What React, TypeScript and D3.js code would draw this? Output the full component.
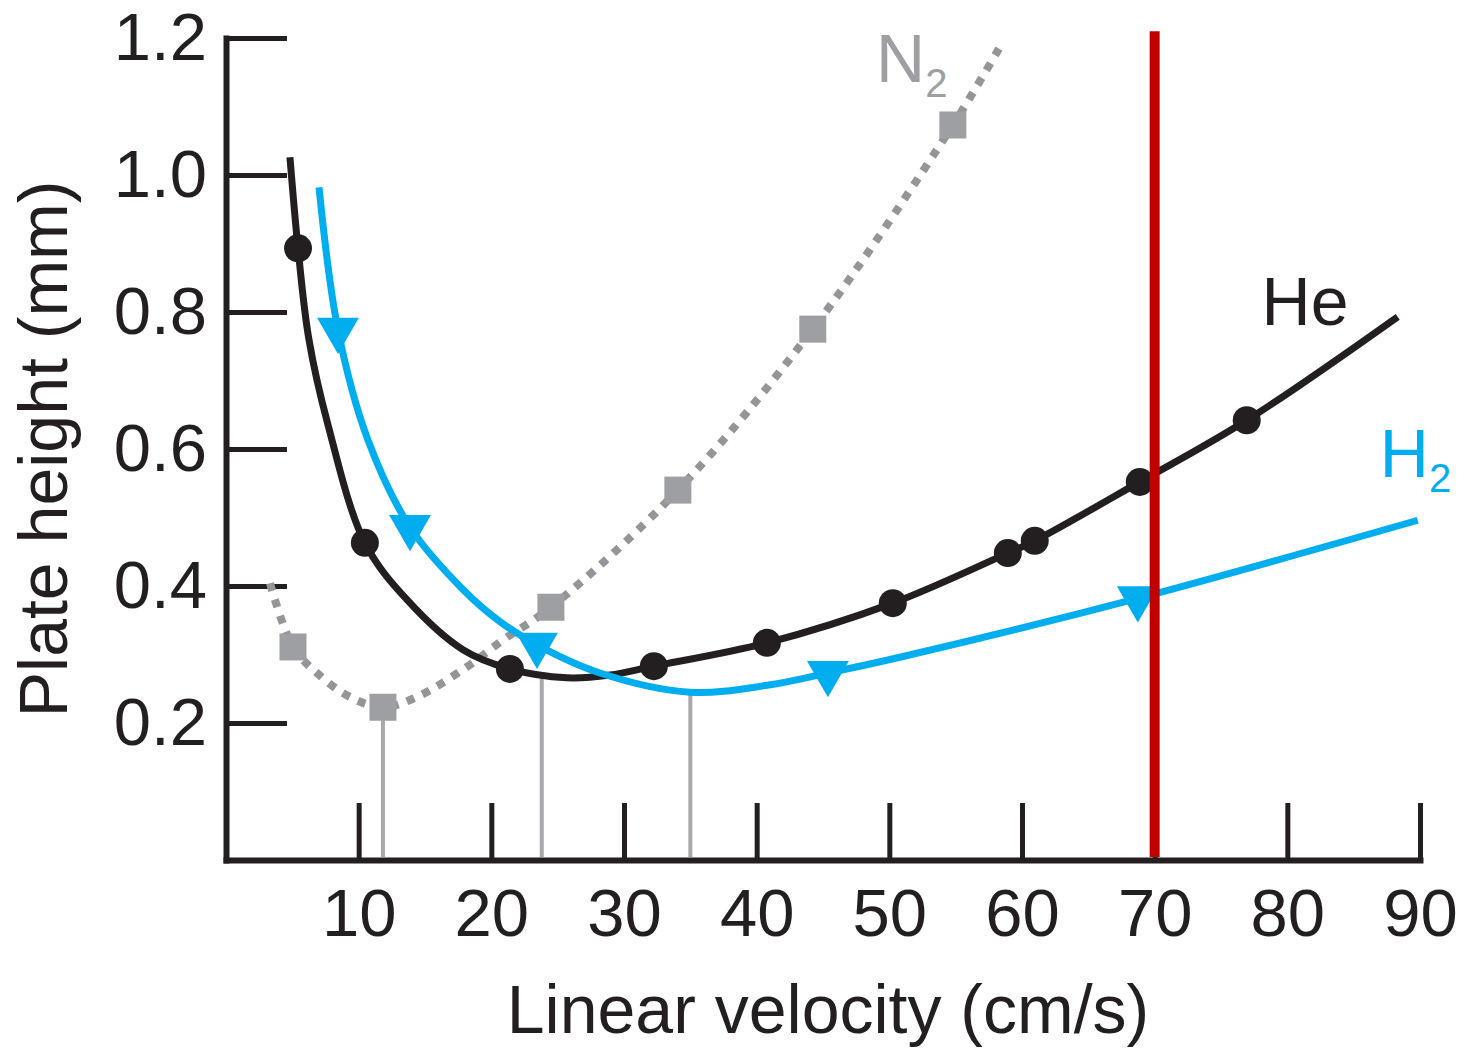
import { useEffect, useRef } from 'react';
import * as d3 from 'd3';

const X_TICKS = [10, 20, 30, 40, 50, 60, 70, 80, 90];
const Y_TICKS = [0.2, 0.4, 0.6, 0.8, 1.0, 1.2];

// He: traced curve (u in cm/s, H in mm) and measured points
const HE_CURVE = [
  [4.82, 1.026], [5.43, 0.893], [6.25, 0.76], [7.69, 0.635], [10.47, 0.463],
  [13.64, 0.38], [17.86, 0.307], [21.4, 0.279], [25.7, 0.266], [28.94, 0.27],
  [32.25, 0.283], [40.77, 0.317], [50.26, 0.375], [58.93, 0.448], [60.96, 0.466],
  [68.88, 0.552], [76.94, 0.642], [88.32, 0.793],
];
const HE_POINTS = [
  [5.43, 0.893], [10.47, 0.463], [21.4, 0.279], [32.25, 0.283], [40.77, 0.317],
  [50.26, 0.375], [58.93, 0.448], [60.96, 0.466], [68.88, 0.552], [76.94, 0.642],
];

// H2
const H2_CURVE = [
  [7.01, 0.982], [8.44, 0.774], [10.7, 0.613], [13.87, 0.486], [17.86, 0.395],
  [20.65, 0.348], [23.44, 0.314], [28.18, 0.273], [34.97, 0.245], [40.77, 0.255],
  [45.37, 0.273], [50.79, 0.296], [68.73, 0.382], [89.83, 0.496],
];
const H2_POINTS = [
  [8.44, 0.774], [13.87, 0.486], [23.44, 0.314], [45.37, 0.273], [68.73, 0.382],
];

// N2
const N2_CURVE = [
  [3.32, 0.404], [5.05, 0.311], [6.86, 0.273], [9.34, 0.238], [11.83, 0.223],
  [14.39, 0.238], [18.16, 0.282], [20.87, 0.321], [24.49, 0.369], [34.06, 0.54],
  [44.23, 0.775], [54.79, 1.073], [58.55, 1.194],
];
const N2_POINTS = [
  [5.05, 0.311], [11.83, 0.223], [24.49, 0.369], [34.06, 0.54], [44.23, 0.775], [54.79, 1.073],
];

// optimum velocities (drop lines to the axis)
const OPTIMA = [
  { u: 11.83, h: 0.223 },
  { u: 23.8, h: 0.27 },
  { u: 35.0, h: 0.245 },
];

const LIMIT_U = 70;
const LIMIT_TOP = 1.21;

const LABELS = [
  { main: 'N', sub: '2', u: 49.0, h: 1.136, color: '#9d9fa2' },
  { main: 'He', sub: '', u: 78.06, h: 0.781, color: '#231f20' },
  { main: 'H', sub: '2', u: 86.97, h: 0.559, color: '#00aeef' },
];

export default function App() {
  const svgRef = useRef<SVGSVGElement>(null);

  useEffect(() => {
    const svg = d3.select(svgRef.current);
    svg.selectAll('*').remove();

    const font = '"Liberation Sans", Arial, Helvetica, sans-serif';
    const ink = '#231f20';
    const blue = '#00aeef';
    const grey = '#9d9fa2';

    const x = d3.scaleLinear().domain([0, 90]).range([226, 1420]);
    const y = d3.scaleLinear().domain([0, 1.2]).range([860, 38]);

    // axes
    const gy = svg.append('g').attr('transform', `translate(${x(0)},0)`)
      .call(d3.axisLeft(y).tickValues(Y_TICKS).tickSize(-61).tickSizeOuter(0).tickPadding(19).tickFormat(d3.format('.1f')))
      .attr('font-size', 67).attr('font-family', font);
    gy.select('.domain').attr('stroke', ink).attr('stroke-width', 6).attr('stroke-linecap', 'square');
    gy.selectAll('.tick line').attr('stroke', ink).attr('stroke-width', 5);
    gy.selectAll('.tick text').attr('fill', ink);

    const gx = svg.append('g').attr('transform', `translate(0,${y(0)})`)
      .call(d3.axisBottom(x).tickValues(X_TICKS).tickSize(-57).tickSizeOuter(0).tickPadding(28))
      .attr('font-size', 67).attr('font-family', font);
    gx.select('.domain').attr('stroke', ink).attr('stroke-width', 6).attr('stroke-linecap', 'square');
    gx.selectAll('.tick line').attr('stroke', ink).attr('stroke-width', 5);
    gx.selectAll('.tick text').attr('fill', ink);

    // axis titles
    svg.append('text')
      .attr('x', 828).attr('y', 1033)
      .attr('text-anchor', 'middle').attr('font-family', font).attr('font-size', 68).attr('fill', ink)
      .text('Linear velocity (cm/s)');
    svg.append('text')
      .attr('transform', 'translate(67,449) rotate(-90)')
      .attr('text-anchor', 'middle').attr('font-family', font).attr('font-size', 68).attr('fill', ink)
      .text('Plate height (mm)');

    // drop lines
    svg.append('g').selectAll('line').data(OPTIMA).join('line')
      .attr('x1', d => x(d.u)).attr('x2', d => x(d.u))
      .attr('y1', d => y(d.h)).attr('y2', y(0) - 3)
      .attr('stroke', '#a7a9ac').attr('stroke-width', 4);

    const line = d3.line<number[]>()
      .x(d => x(d[0])).y(d => y(d[1]))
      .curve(d3.curveCatmullRom.alpha(0.5));

    // N2
    svg.append('path').attr('d', line(N2_CURVE))
      .attr('fill', 'none').attr('stroke', '#939598').attr('stroke-width', 8)
      .attr('stroke-dasharray', '8 9');
    svg.append('g').selectAll('rect').data(N2_POINTS).join('rect')
      .attr('x', d => x(d[0]) - 13.5).attr('y', d => y(d[1]) - 13.5)
      .attr('width', 27).attr('height', 27).attr('fill', grey);

    // He
    svg.append('path').attr('d', line(HE_CURVE))
      .attr('fill', 'none').attr('stroke', ink).attr('stroke-width', 7);
    svg.append('g').selectAll('circle').data(HE_POINTS).join('circle')
      .attr('cx', d => x(d[0])).attr('cy', d => y(d[1])).attr('r', 14).attr('fill', ink);

    // H2
    svg.append('path').attr('d', line(H2_CURVE))
      .attr('fill', 'none').attr('stroke', blue).attr('stroke-width', 7);
    const tri = d3.symbol(d3.symbolTriangle, 760);
    svg.append('g').selectAll('path').data(H2_POINTS).join('path')
      .attr('d', tri())
      .attr('transform', d => `translate(${x(d[0])},${y(d[1])}) rotate(180)`)
      .attr('fill', blue);

    // 70 cm/s limit
    svg.append('line')
      .attr('x1', x(LIMIT_U)).attr('x2', x(LIMIT_U))
      .attr('y1', y(0) - 3).attr('y2', y(LIMIT_TOP))
      .attr('stroke', '#c00000').attr('stroke-width', 10);

    // series labels
    const lbl = svg.append('g').selectAll('text').data(LABELS).join('text')
      .attr('x', d => x(d.u)).attr('y', d => y(d.h))
      .attr('font-family', font).attr('font-size', 68)
      .attr('fill', d => d.color)
      .text(d => d.main);
    lbl.append('tspan').attr('dy', 15).attr('font-size', 40).text(d => d.sub);
  }, []);

  return (
    <svg
      ref={svgRef}
      width={1466}
      height={1050}
      style={{ position: 'absolute', left: 0, top: 0, background: '#fff' }}
    />
  );
}
